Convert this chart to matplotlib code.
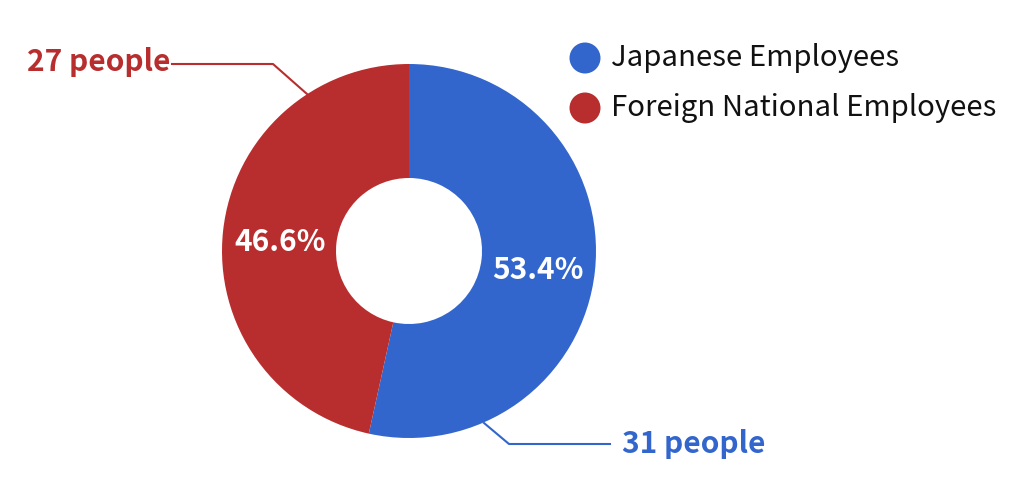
import matplotlib
matplotlib.use("Agg")
import matplotlib.pyplot as plt
from matplotlib.patches import Circle

plt.rcParams['font.family'] = ['Noto Sans CJK JP', 'DejaVu Sans']

categories = ['Japanese Employees', 'Foreign National Employees']
counts = [31, 27]
people_labels = ['31 people', '27 people']
colors = ['#3366CC', '#B82E2E']

W, H = 1024, 503
fig = plt.figure(figsize=(W / 100, H / 100), dpi=100)
ax = fig.add_axes([0, 0, 1, 1])

def Y(p):
    return H - p

cx, cy, R, r_in = 409, Y(251), 187, 73
wedges, texts, autotexts = ax.pie(
    counts, colors=colors, startangle=90, counterclock=False,
    center=(cx, cy), radius=R, frame=True,
    autopct='%.1f%%', pctdistance=(R + r_in) / 2 / R,
    wedgeprops=dict(width=R - r_in, linewidth=0),
    textprops=dict(color='white', fontsize=21.5, fontweight='bold'))
ax.set_xlim(0, W)
ax.set_ylim(0, H)
ax.set_aspect('equal')
ax.axis('off')
for t in autotexts:
    t.set_va('center')
    x, y = t.get_position()
    t.set_position((x, y - 5))

# leader lines and people labels
lw = 1.5
ax.plot([484, 509, 610], [Y(423), Y(444), Y(444)], color=colors[0], lw=lw)
ax.text(622, Y(444), people_labels[0], color=colors[0], fontsize=21.5,
        fontweight='bold', ha='left', va='center')
ax.plot([307, 273, 172], [Y(94), Y(64), Y(64)], color=colors[1], lw=lw)
ax.text(170, Y(62), people_labels[1], color=colors[1], fontsize=21.5,
        fontweight='bold', ha='right', va='center')

# legend
for i, (cat, col) in enumerate(zip(categories, colors)):
    yy = Y(58 + 50 * i)
    ax.add_patch(Circle((585, yy), 15.5, color=col, lw=0))
    ax.text(611, yy, cat, color='#111111', fontsize=21.1, ha='left', va='center')

fig.savefig('out.png', dpi=100)
